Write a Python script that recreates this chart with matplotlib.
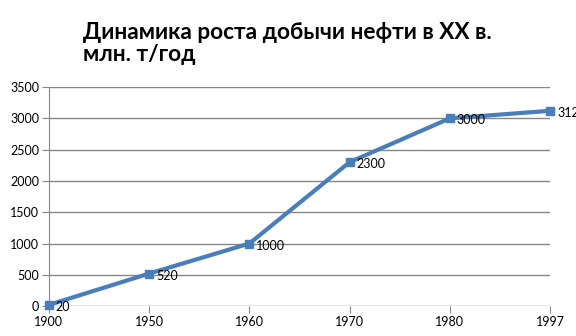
import matplotlib
matplotlib.use("Agg")
import matplotlib.pyplot as plt

years = ["1900", "1950", "1960", "1970", "1980", "1997"]
output = [20, 520, 1000, 2300, 3000, 3120]
labels = ["20", "520", "1000", "2300", "3000", "3120"]
yticks = [0, 500, 1000, 1500, 2000, 2500, 3000, 3500]

plt.rcParams['font.family'] = ['Lato', 'DejaVu Sans']

fig = plt.figure(figsize=(5.76, 3.36), dpi=100)
ax = fig.add_axes([0.085, 0.089, 0.870, 0.652])

x = list(range(len(years)))
ax.plot(x, output, color='#4a7ebb', linewidth=3, marker='s', markersize=6,
        clip_on=False, zorder=3)
# data labels, the last one runs off the right edge like in the original
for xi, yi, lab in zip(x, output, labels):
    ax.annotate(lab, (xi, yi), xytext=(5, -1.5), textcoords='offset points',
                fontsize=9, color='black', va='center', ha='left',
                annotation_clip=False, zorder=4)

ax.set_xlim(0, len(years) - 1)
ax.set_ylim(0, 3500)
ax.set_xticks(x)
ax.set_xticklabels(years)
ax.set_yticks(yticks)
ax.grid(axis='y', color='#868686', linewidth=1)
ax.set_axisbelow(True)
for s in ['top', 'right', 'bottom']:
    ax.spines[s].set_visible(False)
ax.spines['left'].set_color('#868686')
ax.tick_params(axis='y', length=5, color='#868686', labelsize=9, pad=2)
ax.tick_params(axis='x', length=5, color='#868686', labelsize=9, pad=2)

fig.text(0.144, 0.935, "Динамика роста добычи нефти в XX в.\nмлн. т/год",
         fontsize=16.3, fontweight='bold', va='top', ha='left', linespacing=1.05)

fig.savefig("out.png", dpi=100)
